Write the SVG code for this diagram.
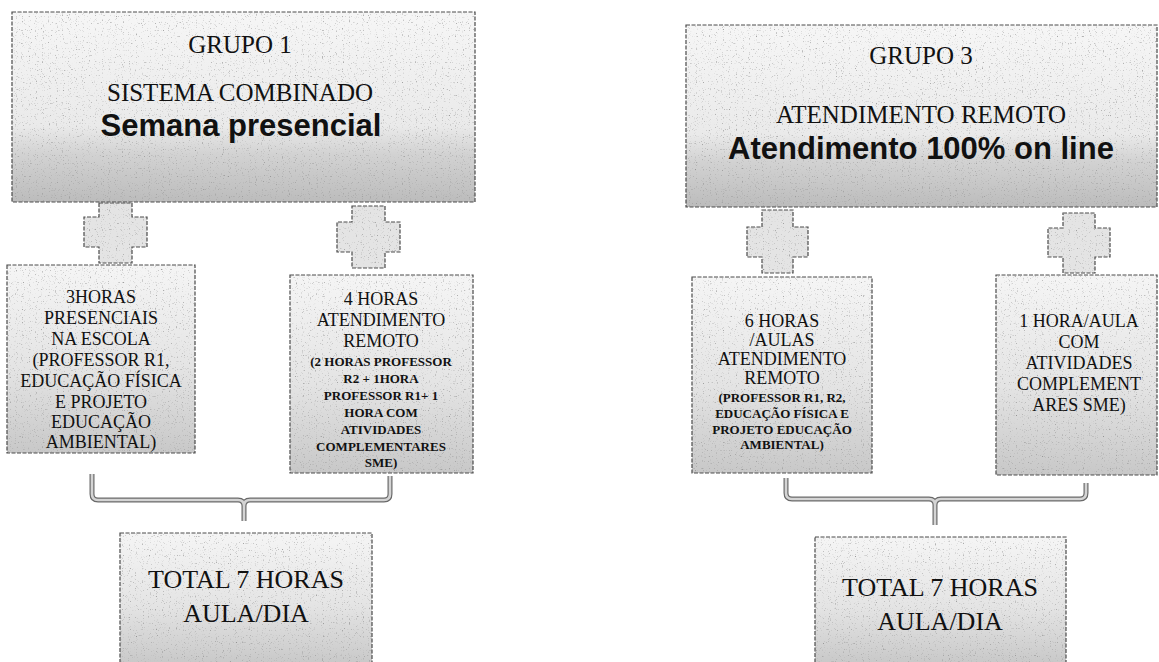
<svg xmlns="http://www.w3.org/2000/svg" width="1159" height="662" viewBox="0 0 1159 662">
<defs>
<linearGradient id="gTop" x1="0" y1="0" x2="0" y2="1">
<stop offset="0" stop-color="#f6f6f6"/>
<stop offset="0.6" stop-color="#eaeaea"/>
<stop offset="0.75" stop-color="#d2d2d2"/>
<stop offset="1" stop-color="#bcbcbc"/>
</linearGradient>
<linearGradient id="gBox" x1="0" y1="0" x2="0" y2="1">
<stop offset="0" stop-color="#f5f5f5"/>
<stop offset="0.55" stop-color="#e4e4e4"/>
<stop offset="1" stop-color="#c8c8c8"/>
</linearGradient>
<filter id="grain" x="-2%" y="-2%" width="104%" height="104%">
<feTurbulence type="fractalNoise" baseFrequency="0.85" numOctaves="1" seed="4" result="n"/>
<feColorMatrix in="n" type="matrix" values="0 0 0 0 0.3  0 0 0 0 0.3  0 0 0 0 0.3  4.5 0 0 0 -2.75" result="sp"/>
<feComposite in="sp" in2="SourceGraphic" operator="in" result="s2"/>
<feMerge><feMergeNode in="SourceGraphic"/><feMergeNode in="s2"/></feMerge>
</filter>
<style>
.box{stroke:#4a4a4a;stroke-width:1.2;stroke-dasharray:4 1.5;filter:url(#grain)}
.top{fill:url(#gTop)}
.low{fill:url(#gBox)}
.plus{fill:#e4e4e4;stroke:#4a4a4a;stroke-width:1.2;stroke-dasharray:4 1.5;filter:url(#grain)}
.br{fill:none;stroke:#6a6a6a;stroke-width:5;stroke-linejoin:round}
.bri{fill:none;stroke:#d4d4d4;stroke-width:2.6;stroke-linejoin:round}
text{font-family:"Liberation Serif","Times New Roman",serif;fill:#111;text-anchor:middle}
.t25{font-size:25px}
.t18{font-size:18px}
.t26{font-size:26px}
.sb{font-size:13px;font-weight:bold}
.big{font-family:"Liberation Sans",Arial,sans-serif;font-weight:bold;font-size:31px}
</style>
</defs>
<rect width="1159" height="662" fill="#ffffff"/>

<g id="connectors">
<path class="plus" d="M99 203 H132 V217 H147 V247 H132 V263 H99 V247 H84 V217 H99 Z"/>
<path class="plus" d="M352 206 H385 V222 H400 V252 H385 V268 H352 V252 H337 V222 H352 Z"/>
<path class="plus" d="M762 210 H793 V227 H808 V257 H793 V273 H762 V257 H747 V227 H762 Z"/>
<path class="plus" d="M1063 213 H1095 V228 H1110 V257 H1095 V273 H1063 V257 H1048 V228 H1063 Z"/>
<path class="br" d="M92 474 V494 Q92 500 98 500 H238 Q244 500 244 506 V521 M244 506 Q244 500 250 500 H384 Q390 500 390 494 V476"/>
<path class="bri" d="M92 474 V494 Q92 500 98 500 H238 Q244 500 244 506 V521 M244 506 Q244 500 250 500 H384 Q390 500 390 494 V476"/>
<path class="br" d="M786 478 V493 Q786 499 792 499 H929 Q935 499 935 505 V525 M935 505 Q935 499 941 499 H1080 Q1086 499 1086 493 V483"/>
<path class="bri" d="M786 478 V493 Q786 499 792 499 H929 Q935 499 935 505 V525 M935 505 Q935 499 941 499 H1080 Q1086 499 1086 493 V483"/>
</g>

<g id="grupo1">
<rect class="box top" x="12" y="12" width="463" height="190"/>
<text class="t25" x="240" y="53">GRUPO 1</text>
<text class="t25" x="240" y="101">SISTEMA COMBINADO</text>
<text class="big" x="241" y="136">Semana presencial</text>
</g>

<g id="presenciais">
<rect class="box low" x="7" y="265" width="188" height="188"/>
<text class="t18" x="101" y="303">3HORAS</text>
<text class="t18" x="101" y="324">PRESENCIAIS</text>
<text class="t18" x="101" y="345">NA ESCOLA</text>
<text class="t18" x="101" y="366">(PROFESSOR R1,</text>
<text class="t18" x="101" y="387">EDUCAÇÃO FÍSICA</text>
<text class="t18" x="101" y="408">E PROJETO</text>
<text class="t18" x="101" y="428">EDUCAÇÃO</text>
<text class="t18" x="101" y="448">AMBIENTAL)</text>
</g>

<g id="remoto1">
<rect class="box low" x="290" y="275" width="183" height="198"/>
<text class="t18" x="381" y="305">4 HORAS</text>
<text class="t18" x="381" y="326">ATENDIMENTO</text>
<text class="t18" x="381" y="347">REMOTO</text>
<text class="sb" x="381" y="366">(2 HORAS PROFESSOR</text>
<text class="sb" x="381" y="383">R2 + 1HORA</text>
<text class="sb" x="381" y="400">PROFESSOR R1+ 1</text>
<text class="sb" x="381" y="417">HORA COM</text>
<text class="sb" x="381" y="434">ATIVIDADES</text>
<text class="sb" x="381" y="451">COMPLEMENTARES</text>
<text class="sb" x="381" y="467">SME)</text>
</g>

<g id="total1">
<rect class="box low" x="120" y="533" width="252" height="132"/>
<text class="t26" x="246" y="588">TOTAL 7 HORAS</text>
<text class="t26" x="246" y="622">AULA/DIA</text>
</g>

<g id="grupo3">
<rect class="box top" x="686" y="25" width="471" height="182"/>
<text class="t25" x="921" y="64">GRUPO 3</text>
<text class="t25" x="921" y="123">ATENDIMENTO REMOTO</text>
<text class="big" x="921" y="159">Atendimento 100% on line</text>
</g>

<g id="remoto3">
<rect class="box low" x="692" y="277" width="180" height="196"/>
<text class="t18" x="782" y="327">6 HORAS</text>
<text class="t18" x="782" y="346">/AULAS</text>
<text class="t18" x="782" y="365">ATENDIMENTO</text>
<text class="t18" x="782" y="384">REMOTO</text>
<text class="sb" x="782" y="402">(PROFESSOR R1, R2,</text>
<text class="sb" x="782" y="418">EDUCAÇÃO FÍSICA E</text>
<text class="sb" x="782" y="434">PROJETO EDUCAÇÃO</text>
<text class="sb" x="782" y="449">AMBIENTAL)</text>
</g>

<g id="complementares">
<rect class="box low" x="996" y="275" width="161" height="200"/>
<text class="t18" x="1079" y="327">1 HORA/AULA</text>
<text class="t18" x="1079" y="348">COM</text>
<text class="t18" x="1079" y="369">ATIVIDADES</text>
<text class="t18" x="1079" y="390">COMPLEMENT</text>
<text class="t18" x="1079" y="411">ARES SME)</text>
</g>

<g id="total3">
<rect class="box low" x="815" y="537" width="251" height="128"/>
<text class="t26" x="940" y="596">TOTAL 7 HORAS</text>
<text class="t26" x="940" y="630">AULA/DIA</text>
</g>
</svg>
